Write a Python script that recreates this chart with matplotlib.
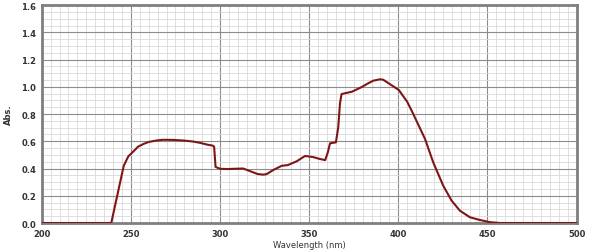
import matplotlib
matplotlib.use("Agg")
import matplotlib.pyplot as plt
from matplotlib.ticker import MultipleLocator

# absorption spectrum
wavelength = [200, 220, 239, 241, 244, 246, 248.6, 251, 254, 257, 260, 264, 268, 274,
              280, 285, 289, 293, 296, 296.7, 297.5, 300, 304, 308, 313, 317, 321, 324,
              326, 330, 334.6, 338, 343, 347.7, 352, 356, 359, 360.5, 361.7, 365, 366.3,
              367.3, 368.2, 371, 374, 379, 383, 386, 389.7, 391.5, 393.5, 397, 400.4,
              402, 405, 408.4, 412, 415, 419.6, 425.2, 429.9, 434.6, 440.2, 445.8,
              451.5, 457, 470, 500]
absorbance = [0, 0, 0, 0.12, 0.30, 0.42, 0.49, 0.52, 0.56, 0.58, 0.595, 0.605, 0.611, 0.61,
              0.605, 0.598, 0.588, 0.575, 0.568, 0.56, 0.412, 0.398, 0.396, 0.398, 0.40,
              0.38, 0.36, 0.355, 0.358, 0.39, 0.42, 0.425, 0.453, 0.492, 0.485, 0.47, 0.462,
              0.52, 0.585, 0.592, 0.70, 0.88, 0.947, 0.955, 0.964, 0.995, 1.025, 1.045,
              1.055, 1.052, 1.035, 1.005, 0.975, 0.945, 0.89, 0.80, 0.70, 0.617, 0.445,
              0.274, 0.164, 0.09, 0.042, 0.022, 0.006, 0, 0, 0]

fig = plt.figure(figsize=(5.91, 2.53), dpi=100)
ax = fig.add_axes([0.0706, 0.1146, 0.905, 0.8614])

ax.plot(wavelength, absorbance, color="#7f1616", lw=1.5, zorder=3)

ax.set_xlim(200, 500)
ax.set_ylim(0, 1.6)
ax.xaxis.set_major_locator(MultipleLocator(50))
ax.xaxis.set_minor_locator(MultipleLocator(5))
ax.yaxis.set_major_locator(MultipleLocator(0.2))
ax.yaxis.set_minor_locator(MultipleLocator(0.05))
ax.yaxis.set_major_formatter(matplotlib.ticker.FormatStrFormatter("%.1f"))

ax.grid(which="major", color="#8c8c8c", lw=0.8)
ax.grid(which="minor", color="#d9d9d9", lw=0.6)
ax.set_axisbelow(True)
ax.tick_params(which="both", length=0)
ax.tick_params(labelsize=6, pad=4)
for lab in ax.get_xticklabels() + ax.get_yticklabels():
    lab.set_fontweight("bold")
    lab.set_color("#333333")
for s in ax.spines.values():
    s.set_color("#7f7f7f")
    s.set_linewidth(2)

ax.set_xlabel("Wavelength (nm)", fontsize=6, labelpad=2, color="#333333")
ax.set_ylabel("Abs.", fontsize=6, labelpad=6, color="#333333", fontweight="bold")

fig.savefig("out.png", dpi=100, facecolor="white")
